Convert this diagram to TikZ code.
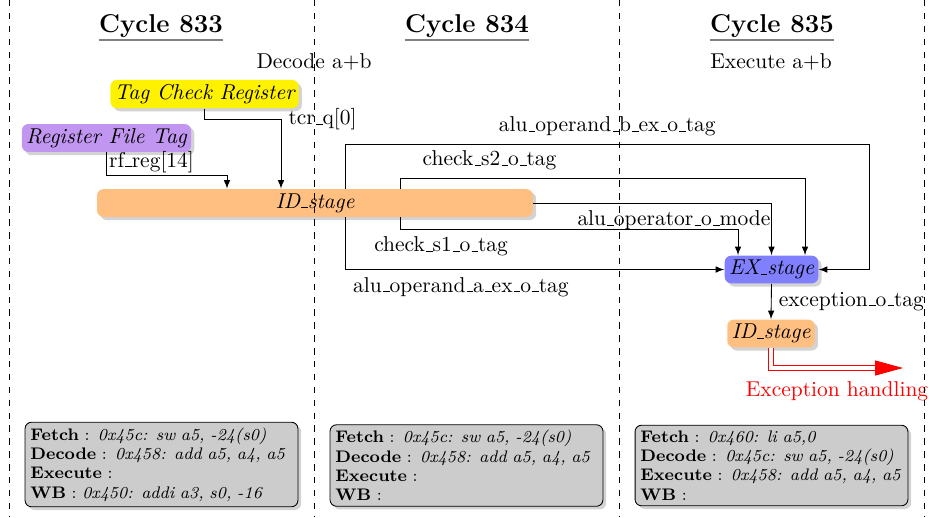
\documentclass[tikz,border=0pt]{standalone}
\usepackage{tikz}
\usetikzlibrary{shadows,arrows.meta,calc}

\definecolor{rftpurple}{RGB}{193,150,240}
\newcommand{\usc}{\leavevmode\kern.06em\vbox{\hrule width.3em}}

\begin{document}
\begin{tikzpicture}[>=latex, x=0.01635cm, y=-0.01635cm,
    stage/.style={rounded corners=3pt, inner sep=2pt, font=\itshape,
        drop shadow={shadow xshift=1.5pt, shadow yshift=-1.5pt, opacity=0.35}},
    cyclehead/.style={inner sep=0pt, font=\large\bfseries},
    infobox/.style={draw, rounded corners=3pt, fill=gray!40, text width=122pt,
        align=left, inner sep=2.5pt, font=\fontsize{7.8}{9}\selectfont,
        drop shadow={shadow xshift=1.5pt, shadow yshift=-1.5pt, opacity=0.35}}]

    \useasboundingbox (0,0) rectangle (930,517);

    % Cycle headings
    \node[cyclehead] (cyc833) at (161,26) {Cycle 833};
    \node[cyclehead] (cyc834) at (467,26) {Cycle 834};
    \node[cyclehead] (cyc835) at (772,26) {Cycle 835};
    \foreach \c in {cyc833,cyc834,cyc835}
        \draw [gray, line width=1.2pt] ([yshift=-1pt]\c.south west) -- ([yshift=-1pt]\c.south east);

    \node (decab) at (314,62) {Decode a+b};
    \node (exeab) at (771,62) {Execute a+b};

    % Stages
    \node[stage, fill=yellow] (tcr) at (204.5,94) {Tag Check Register};
    \node[stage, fill=rftpurple] (rft) at (106.5,138) {Register File Tag};
    \node[stage, fill=orange!50, minimum width=7.13cm] (idbig) at (315,203) {ID\usc stage};
    \node[stage, fill=blue!50] (ex) at (771.5,269.5) {EX\usc stage};
    \node[stage, fill=orange!50] (idexc) at (771,333.5) {ID\usc stage};

    % Bends
    \coordinate (tcrbend) at (281,119);
    \coordinate (rftbend) at (227,175);
    \coordinate (opbtop) at (869,144);
    \coordinate (s2top) at (805,178);
    \coordinate (s1low) at (738,229);
    \coordinate (excbase) at (877,368);
    \coordinate (exctip) at (903,368);

    % Into ID stage
    \draw [->] (tcr.south) |- (tcrbend) node[right] {tcr\usc q[0]} -- (tcrbend |- idbig.north);
    \draw [->] (rft.south) |- node[pos=0.5, above right, inner sep=1pt] {rf\usc reg[14]} (rftbend) -- (rftbend |- idbig.north);

    % ID to EX
    \draw [->] ($(idbig.north west)+(249,0)$) |- node[pos=0.75, above] {alu\usc operand\usc b\usc ex\usc o\usc tag} (opbtop) |- (ex.east);
    \draw [->] ($(idbig.south west)+(249,0)$) |- node[pos=0.5, below right] {alu\usc operand\usc a\usc ex\usc o\usc tag} (ex.west);
    \draw [->] ($(idbig.north west)+(304,0)$) |- node[pos=0.61, above] {check\usc s2\usc o\usc tag} (s2top) -- (s2top |- ex.north);
    \draw [->] ($(idbig.south west)+(304,0)$) |- node[pos=0.56, below] {check\usc s1\usc o\usc tag} (s1low) -- (s1low |- ex.north);
    \draw [->] (idbig.east) -| node[pos=0.5, below left, xshift=3pt] {alu\usc operator\usc o\usc mode} (ex.north);

    % Exception
    \draw [->] (ex.south) -- node[right] {exception\usc o\usc tag} (idexc.north);
    \draw [red, line width=2.4pt] (idexc.south) |- (excbase);
    \draw [white, line width=1.6pt] (idexc.south) |- (excbase);
    \draw [red, -{Triangle[length=13pt,width=7pt]}] (excbase) -- (exctip);
    \node[red, below=3pt] (exchand) at ($(idexc.south |- excbase)!0.5!(exctip)$) {Exception handling};

    % Pipeline contents
    \node[infobox] (inf833) at (161.5,464.5) {\textbf{Fetch} : \textit{0x45c: sw a5, -24(s0)}\\
        \textbf{Decode} : \textit{0x458: add a5, a4, a5}\\
        \textbf{Execute} :\\
        \textbf{WB} : \textit{0x450: addi a3, s0, -16}};
    \node[infobox] (inf834) at (466.5,465.5) {\textbf{Fetch} : \textit{0x45c: sw a5, -24(s0)}\\
        \textbf{Decode} : \textit{0x458: add a5, a4, a5}\\
        \textbf{Execute} :\\
        \textbf{WB} :};
    \node[infobox] (inf835) at (771.5,465.5) {\textbf{Fetch} : \textit{0x460: li a5,0}\\
        \textbf{Decode} : \textit{0x45c: sw a5, -24(s0)}\\
        \textbf{Execute} : \textit{0x458: add a5, a4, a5}\\
        \textbf{WB} :};

    % Cycle borders
    \foreach \x in {9,314,619,924}
        \draw [dashed] (\x,0) -- (\x,517);

\end{tikzpicture}
\end{document}
